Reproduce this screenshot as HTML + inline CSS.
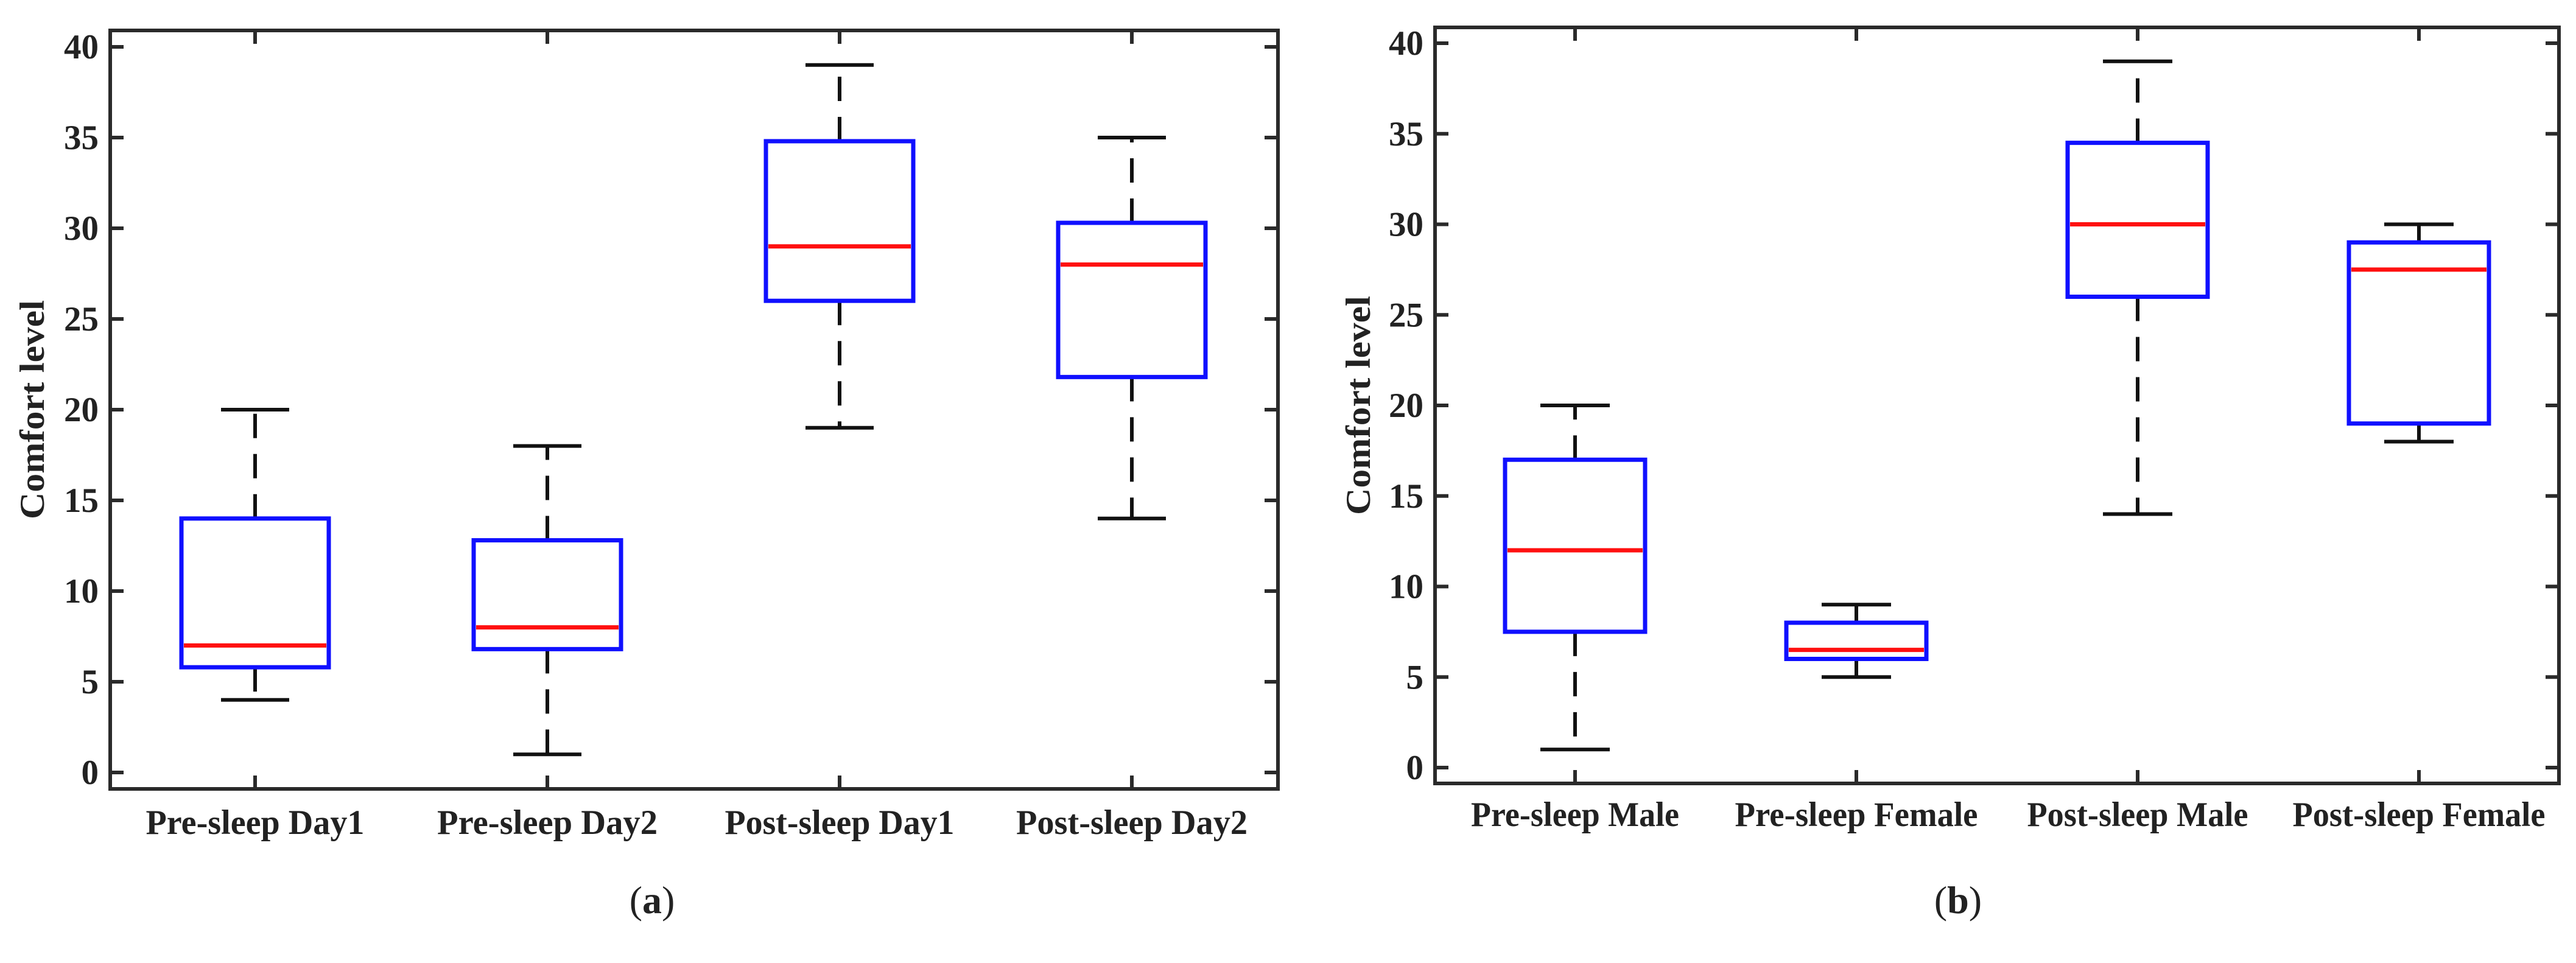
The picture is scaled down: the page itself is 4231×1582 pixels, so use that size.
<!DOCTYPE html>
<html><head><meta charset="utf-8">
<style>
html,body{margin:0;padding:0;background:#fff;}
svg{display:block;}
text{font-family:"Liberation Serif",serif;font-weight:bold;fill:#222;}
</style></head>
<body>
<svg id="chart" width="4231" height="1582" viewBox="0 0 4231 1582" xmlns="http://www.w3.org/2000/svg"></svg>
<script>
// ---- data ----
const categoriesA = ["Pre-sleep Day1","Pre-sleep Day2","Post-sleep Day1","Post-sleep Day2"];
const lowA  = [4, 1, 19, 14];
const q1A   = [5.8, 6.8, 26, 21.8];
const medA  = [7, 8, 29, 28];
const q3A   = [14, 12.8, 34.8, 30.3];
const highA = [20, 18, 39, 35];

const categoriesB = ["Pre-sleep Male","Pre-sleep Female","Post-sleep Male","Post-sleep Female"];
const lowB  = [1, 5, 14, 18];
const q1B   = [7.5, 6, 26, 19];
const medB  = [12, 6.5, 30, 27.5];
const q3B   = [17, 8, 34.5, 29];
const highB = [20, 9, 39, 30];

const yTicks = [0,5,10,15,20,25,30,35,40];

const NS = "http://www.w3.org/2000/svg";
const svg = document.getElementById("chart");
function mk(tag, attrs, parent){
  const e = document.createElementNS(NS, tag);
  for (const k in attrs) e.setAttribute(k, attrs[k]);
  (parent||svg).appendChild(e);
  return e;
}

function panel(cfg){
  const g = mk("g", {});
  
  
  const y = v => cfg.y0 + (cfg.y40 - cfg.y0) * v / 40;
  const x = i => cfg.c0 + i * cfg.step;
  const box = mk("rect", {x:cfg.L, y:cfg.T, width:cfg.R-cfg.L, height:cfg.B-cfg.T, fill:"none", stroke:"#2a2a2a", "stroke-width":6}, g);
  
  
  yTicks.forEach(t => {
    const yy = y(t);
    mk("line", {x1:cfg.L, x2:cfg.L+22, y1:yy, y2:yy, stroke:"#2a2a2a", "stroke-width":6}, g);
    mk("line", {x1:cfg.R-22, x2:cfg.R, y1:yy, y2:yy, stroke:"#2a2a2a", "stroke-width":6}, g);
    const tl = mk("text", {x:cfg.L-19, y:yy+19, "font-size":57, "text-anchor":"end"}, g);
    tl.textContent = t;
    
    
  });
  const yt = mk("text", {x:0, y:0, "font-size":57, "text-anchor":"middle", transform:`translate(${cfg.ylx},${(cfg.T+cfg.B)/2}) rotate(-90)`, textLength:360, lengthAdjust:"spacingAndGlyphs"}, g);
  yt.textContent = "Comfort level";
  
  
  cfg.cats.forEach((c, i) => {
    const cx = x(i);
    mk("line", {x1:cx, x2:cx, y1:cfg.B, y2:cfg.B-22, stroke:"#2a2a2a", "stroke-width":6}, g);
    mk("line", {x1:cx, x2:cx, y1:cfg.T, y2:cfg.T+22, stroke:"#2a2a2a", "stroke-width":6}, g);
    const lab = mk("text", {x:cx, y:cfg.labY, "font-size":57, "text-anchor":"middle", textLength:cfg.labW[i], lengthAdjust:"spacingAndGlyphs"}, g);
    lab.textContent = c;
    
    
    const bg = mk("g", {}, g);
    
    
    mk("line", {x1:cx, x2:cx, y1:y(cfg.q3[i]), y2:y(cfg.high[i]), stroke:"#111", "stroke-width":6, "stroke-dasharray":"40 26"}, bg);
    mk("line", {x1:cx, x2:cx, y1:y(cfg.q1[i]), y2:y(cfg.low[i]), stroke:"#111", "stroke-width":6, "stroke-dasharray":"40 26"}, bg);
    mk("line", {x1:cx-cfg.cap, x2:cx+cfg.cap, y1:y(cfg.high[i]), y2:y(cfg.high[i]), stroke:"#111", "stroke-width":6}, bg);
    mk("line", {x1:cx-cfg.cap, x2:cx+cfg.cap, y1:y(cfg.low[i]), y2:y(cfg.low[i]), stroke:"#111", "stroke-width":6}, bg);
    mk("rect", {x:cx-cfg.hw, y:y(cfg.q3[i]), width:2*cfg.hw, height:y(cfg.q1[i])-y(cfg.q3[i]), fill:"#fff", stroke:"#1010ff", "stroke-width":7}, bg);
    mk("line", {x1:cx-cfg.hw+4, x2:cx+cfg.hw-4, y1:y(cfg.med[i]), y2:y(cfg.med[i]), stroke:"#ff1010", "stroke-width":7}, bg);
  });
  const cap = mk("text", {x:cfg.capX, y:1500, "font-size":64, "text-anchor":"middle", style:"font-weight:normal"}, g);
  cap.innerHTML = '(<tspan style="font-weight:bold">' + cfg.letter + '</tspan>)';
  
  
}

panel({name:"panel-a", letter:"a", L:181, R:2099, T:50, B:1296, y0:1269, y40:77, c0:419, step:480,
  hw:121, cap:56, ylx:72, labY:1370, capX:1071,
  labW:[359,362,377,380], cats:categoriesA, low:lowA, q1:q1A, med:medA, q3:q3A, high:highA});
panel({name:"panel-b", letter:"b", L:2357, R:4203, T:45, B:1287, y0:1261, y40:71, c0:2587, step:462,
  hw:115, cap:57, ylx:2250, labY:1357, capX:3216,
  labW:[342,399,363,415], cats:categoriesB, low:lowB, q1:q1B, med:medB, q3:q3B, high:highB});
</script>
</body></html>
